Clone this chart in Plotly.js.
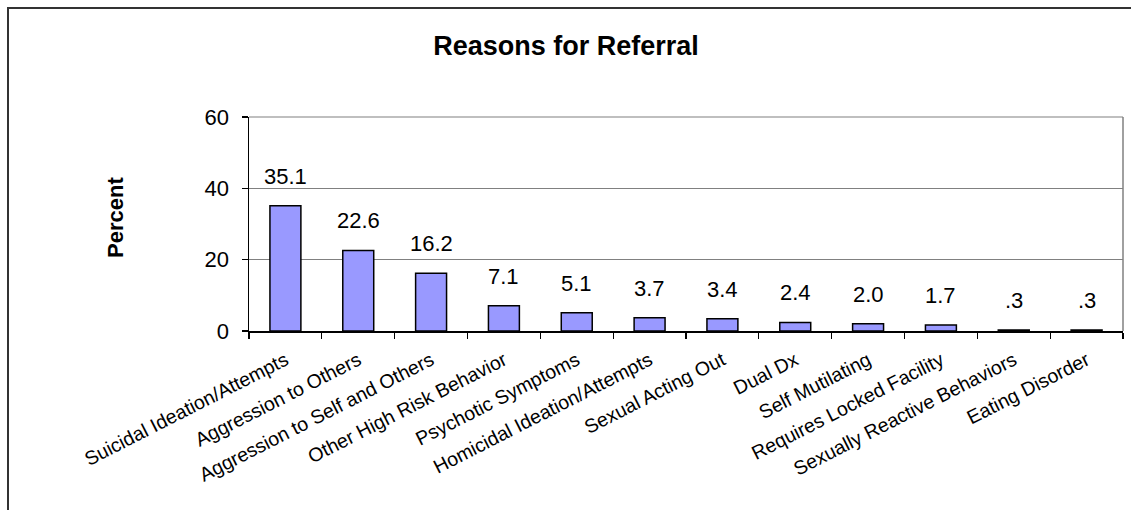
<!DOCTYPE html>
<html><head><meta charset="utf-8">
<script src="https://cdn.plot.ly/plotly-3.0.1.min.js"></script>
<style>html,body{margin:0;padding:0;background:#fff}#chart{width:1131px;height:510px}</style>
</head><body><div id="chart"></div>
<script>
const categories = ["Suicidal Ideation/Attempts","Aggression to Others","Aggression to Self and Others","Other High Risk Behavior","Psychotic Symptoms","Homicidal Ideation/Attempts","Sexual Acting Out","Dual Dx","Self Mutilating","Requires Locked Facility","Sexually Reactive Behaviors","Eating Disorder"];
const percents = [35.1,22.6,16.2,7.1,5.1,3.7,3.4,2.4,2.0,1.7,0.3,0.3];
const percentLabels = ["35.1","22.6","16.2","7.1","5.1","3.7","3.4","2.4","2.0","1.7",".3",".3"];
const yTicks = [0,20,40,60];

const L=249, R=1123, T=117, B=331, W=1131, H=510;
const FONT='Liberation Sans, Arial, sans-serif';
const px2x = p => (p-L)/(R-L);
const py2y = p => (B-p)/(B-T);

const labelAnnotations = categories.map((c,i)=>({
  x:c, y:percents[i], xref:'x', yref:'y', text:percentLabels[i], showarrow:false,
  yanchor:'bottom', yshift:15, font:{family:FONT,size:22,color:'#000'}
}));

Plotly.newPlot('chart',[{
  type:'bar', x:categories, y:percents,
  marker:{color:'#9999FF',line:{color:'#000',width:1.5}},
  hoverinfo:'skip'
}],{
  width:W,height:H,
  margin:{l:L,r:W-R,t:T,b:H-B},
  paper_bgcolor:'#fff',plot_bgcolor:'#fff',
  bargap:0.575,
  showlegend:false,
  font:{family:FONT,color:'#000'},
  title:{text:'<b>Reasons for Referral</b>',font:{size:27,color:'#000'},x:566/W,xref:'container',xanchor:'center',y:1-46/H,yref:'container',yanchor:'middle'},
  xaxis:{type:'category',tickangle:-27,tickfont:{size:19.5},ticks:'outside',tickson:'boundaries',ticklen:6,tickcolor:'#000',tickwidth:1.2,
         ticklabelstandoff:9,
         showline:true,linecolor:'#000',linewidth:1.5,showgrid:false,automargin:false},
  yaxis:{range:[0,60],tickvals:yTicks,ticktext:yTicks.map(String),tickfont:{size:22},ticks:'outside',ticklen:6,tickcolor:'#000',tickwidth:1.2,
         ticklabelstandoff:8,
         showline:true,linecolor:'#000',linewidth:1.5,showgrid:true,gridcolor:'#808080',gridwidth:1.2,zeroline:false,automargin:false,
         title:{text:''}},
  annotations:labelAnnotations.concat([
    {xref:'paper',yref:'paper',x:px2x(115),y:py2y(218),text:'<b>Percent</b>',textangle:-90,showarrow:false,xanchor:'center',yanchor:'middle',font:{family:FONT,size:22,color:'#000'}}
  ]),
  shapes:[
    {type:'rect',xref:'paper',yref:'paper',x0:px2x(8),x1:px2x(1140),y0:py2y(530),y1:py2y(8),line:{color:'#333',width:2},fillcolor:'rgba(0,0,0,0)',layer:'above'},
    {type:'line',xref:'paper',yref:'paper',x0:1,x1:1,y0:0,y1:1,line:{color:'#808080',width:1.5}},
    {type:'line',xref:'paper',yref:'paper',x0:0,x1:1,y0:1,y1:1,line:{color:'#808080',width:1.2}}
  ]
},{displayModeBar:false,staticPlot:true});
</script></body></html>
